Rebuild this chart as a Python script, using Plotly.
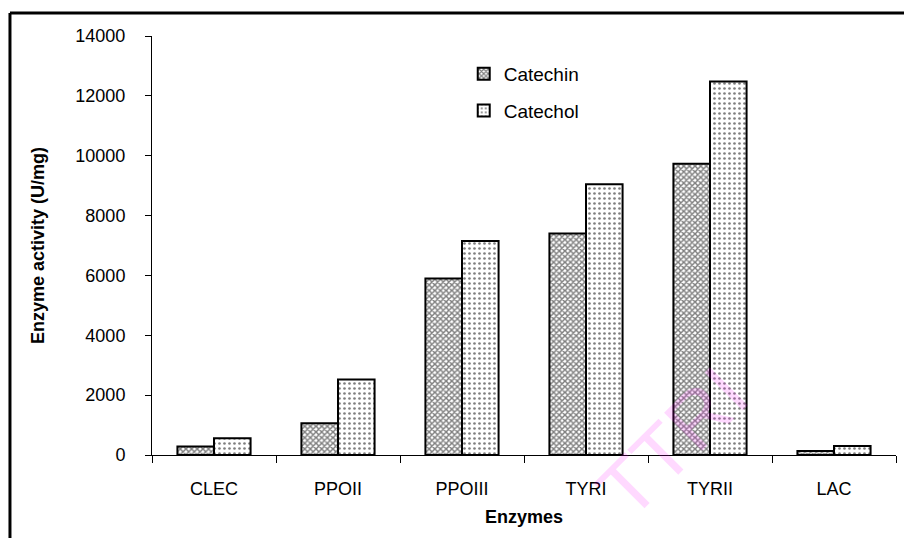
import plotly.graph_objects as go

# Enzyme activity measured with two substrates
enzymes = ["CLEC", "PPOII", "PPOIII", "TYRI", "TYRII", "LAC"]
catechin = [280, 1060, 5900, 7400, 9730, 130]
catechol = [560, 2520, 7150, 9050, 12480, 300]
y_ticks = [0, 2000, 4000, 6000, 8000, 10000, 12000, 14000]

FONT = "Liberation Sans, Arial, sans-serif"

fig = go.Figure()
fig.add_trace(go.Bar(
    x=enzymes, y=catechin, name="Catechin", legendgroup="a",
    marker=dict(color="white", line=dict(color="black", width=2),
                pattern=dict(shape="x", size=4, solidity=0.6,
                             fgcolor="black", bgcolor="white")),
))
fig.add_trace(go.Bar(
    x=enzymes, y=catechol, name="Catechol", legendgroup="b",
    marker=dict(color="white", line=dict(color="black", width=2),
                pattern=dict(shape=".", size=5, solidity=0.22,
                             fgcolor="black", bgcolor="white")),
))

fig.update_layout(
    width=904, height=538,
    margin=dict(l=152, r=8, t=36, b=83),
    paper_bgcolor="white", plot_bgcolor="white",
    barmode="group", bargap=0.41, bargroupgap=0,
    font=dict(family=FONT, size=16, color="black"),
    legend=dict(x=0.419, y=0.955, xanchor="left", yanchor="top",
                bgcolor="rgba(0,0,0,0)", tracegroupgap=9,
                font=dict(size=19), traceorder="grouped"),
    xaxis=dict(
        showline=True, linecolor="black", linewidth=1,
        ticks="outside", ticklen=7, tickcolor="black",
        tickson="boundaries", ticklabelstandoff=17,
        tickfont=dict(size=18),
        title=dict(text="<b>Enzymes</b>", font=dict(size=18), standoff=12),
        showgrid=False,
    ),
    yaxis=dict(
        range=[0, 14000], tickvals=y_ticks, tickformat="d",
        showline=True, linecolor="black", linewidth=1,
        ticks="outside", ticklen=6, tickcolor="black",
        ticklabelstandoff=16, tickfont=dict(size=18),
        title=dict(text="<b>Enzyme activity (U/mg)</b>", font=dict(size=18), standoff=26),
        showgrid=False, zeroline=False,
    ),
)

# Outer frame around the figure (top and left edges)
frame = dict(type="line", xref="paper", yref="paper",
             line=dict(color="black", width=3))
fig.add_shape(**frame, x0=-0.1909, x1=1.02, y0=1.0549, y1=1.0549)
fig.add_shape(**frame, x0=-0.1909, x1=-0.1909, y0=-0.25, y1=1.0549)

# Faint watermark across the lower right
fig.add_annotation(
    text="TTRI", xref="paper", yref="paper", x=0.70, y=0.03,
    xanchor="center", yanchor="middle",
    showarrow=False, textangle=-45,
    font=dict(family=FONT, size=78, color="rgba(255,0,255,0.15)"),
)

fig.write_html("out.html")
